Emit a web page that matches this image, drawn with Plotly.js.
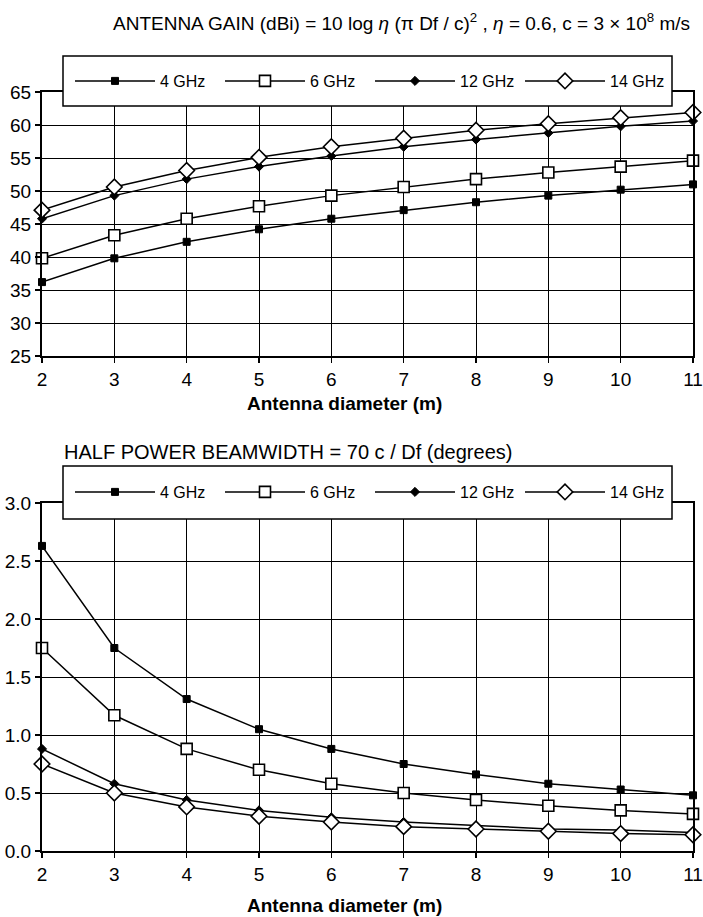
<!DOCTYPE html>
<html>
<head>
<meta charset="utf-8">
<script src="https://cdn.plot.ly/plotly-3.0.1.min.js"></script>
<style>html,body{margin:0;padding:0;background:#fff;}</style>
</head>
<body>
<div id="chart" style="width:703px;height:917px;"></div>
<script>
// Antenna diameter (m)
const diameters = [2, 3, 4, 5, 6, 7, 8, 9, 10, 11];
const seriesNames = ['4 GHz', '6 GHz', '12 GHz', '14 GHz'];

// Antenna gain (dBi)
const gain4  = [36.2, 39.8, 42.3, 44.2, 45.8, 47.1, 48.3, 49.3, 50.2, 51.0];
const gain6  = [39.8, 43.3, 45.8, 47.7, 49.3, 50.6, 51.8, 52.8, 53.7, 54.6];
const gain12 = [45.8, 49.3, 51.8, 53.7, 55.3, 56.7, 57.8, 58.8, 59.8, 60.6];
const gain14 = [47.1, 50.6, 53.1, 55.1, 56.7, 58.0, 59.2, 60.2, 61.1, 61.9];

// Half power beamwidth (degrees)
const bw4  = [2.63, 1.75, 1.31, 1.05, 0.88, 0.75, 0.66, 0.58, 0.53, 0.48];
const bw6  = [1.75, 1.17, 0.88, 0.70, 0.58, 0.50, 0.44, 0.39, 0.35, 0.32];
const bw12 = [0.88, 0.58, 0.44, 0.35, 0.29, 0.25, 0.22, 0.19, 0.18, 0.16];
const bw14 = [0.75, 0.50, 0.38, 0.30, 0.25, 0.21, 0.19, 0.17, 0.15, 0.14];

const gainTicks = [25, 30, 35, 40, 45, 50, 55, 60, 65];
const bwTicks = [0, 0.5, 1.0, 1.5, 2.0, 2.5, 3.0];

const FONT = '"Liberation Sans", Arial, Helvetica, sans-serif';

const markerStyles = [
  {symbol: 'square', size: 7, color: '#000', line: {color: '#000', width: 1}},
  {symbol: 'square', size: 11, color: '#fff', line: {color: '#000', width: 1.6}},
  {symbol: 'diamond', size: 7, color: '#000', line: {color: '#000', width: 1}},
  {symbol: 'diamond', size: 12, color: '#fff', line: {color: '#000', width: 1.6}}
];

function makeTrace(y, i, xa, ya, legendName) {
  return {
    x: diameters, y: y, type: 'scatter', mode: 'lines+markers',
    name: seriesNames[i], xaxis: xa, yaxis: ya, legend: legendName,
    line: {color: '#000', width: 1.5},
    marker: markerStyles[i],
    cliponaxis: false
  };
}

const gains = [gain4, gain6, gain12, gain14];
const bws = [bw4, bw6, bw12, bw14];
const traces = [];
gains.forEach((g, i) => traces.push(makeTrace(g, i, 'x', 'y', 'legend')));
bws.forEach((b, i) => traces.push(makeTrace(b, i, 'x2', 'y2', 'legend2')));

const W = 703, H = 917, ML = 42, MR = 10;
const PW = W - ML - MR;
const px = v => (v - ML) / PW;     // pixel x -> paper x
const py = v => 1 - v / H;         // pixel y -> paper y

function xaxisCfg(anchor) {
  return {
    anchor: anchor, domain: [0, 1], range: [2, 11], tickmode: 'array',
    tickvals: diameters, ticktext: diameters.map(String),
    showgrid: true, gridcolor: '#000', gridwidth: 1,
    showline: true, linecolor: '#000', linewidth: 2, mirror: true,
    ticks: 'outside', ticklen: 5, tickcolor: '#000', tickwidth: 1.5,
    tickfont: {family: FONT, size: 19, color: '#000'},
    zeroline: false, fixedrange: true
  };
}
function yaxisCfg(anchor, dom, range, ticks, fmt) {
  return {
    anchor: anchor, domain: dom, range: range, tickmode: 'array',
    tickvals: ticks, ticktext: ticks.map(v => fmt(v)),
    showgrid: true, gridcolor: '#000', gridwidth: 1,
    showline: true, linecolor: '#000', linewidth: 2, mirror: true,
    ticks: 'outside', ticklen: 5, tickcolor: '#000', tickwidth: 1.5,
    tickfont: {family: FONT, size: 19, color: '#000'},
    zeroline: false, fixedrange: true
  };
}

const legendCfg = (yc) => ({
  orientation: 'h', x: px(70), xanchor: 'left', y: yc, yanchor: 'middle',
  bgcolor: 'rgba(0,0,0,0)', borderwidth: 0,
  itemwidth: 80, entrywidth: 55, entrywidthmode: 'pixels',
  font: {family: FONT, size: 16, color: '#000'},
  itemclick: false, itemdoubleclick: false
});

const layout = {
  width: W, height: H,
  margin: {l: ML, r: MR, t: 0, b: 0},
  paper_bgcolor: '#fff', plot_bgcolor: '#fff',
  showlegend: true,
  xaxis: xaxisCfg('y'),
  yaxis: yaxisCfg('x', [py(356), py(92)], [25, 65], gainTicks, v => String(v)),
  xaxis2: xaxisCfg('y2'),
  yaxis2: yaxisCfg('x2', [py(851), py(503)], [0, 3], bwTicks, v => v.toFixed(1)),
  legend: legendCfg(py(81)),
  legend2: legendCfg(py(492)),
  shapes: [
    {type: 'rect', xref: 'paper', yref: 'paper', x0: px(63), x1: px(672), y0: py(106), y1: py(56),
     fillcolor: '#fff', line: {color: '#000', width: 1.5}, layer: 'above'},
    {type: 'rect', xref: 'paper', yref: 'paper', x0: px(63), x1: px(672), y0: py(519), y1: py(466),
     fillcolor: '#fff', line: {color: '#000', width: 1.5}, layer: 'above'}
  ],
  annotations: [
    {xref: 'paper', yref: 'paper', x: px(692), y: py(22), xanchor: 'right', yanchor: 'middle', showarrow: false,
     text: 'ANTENNA GAIN (dBi) = 10 log <i>η</i> (π Df / c)<sup>2</sup> , <i>η</i> = 0.6, c = 3 × 10<sup>8</sup> m/s',
     font: {family: FONT, size: 19, color: '#000'}},
    {xref: 'paper', yref: 'paper', x: px(344), y: py(403), xanchor: 'center', yanchor: 'middle', showarrow: false,
     text: '<b>Antenna diameter (m)</b>', font: {family: FONT, size: 19, color: '#000'}},
    {xref: 'paper', yref: 'paper', x: px(62), y: py(452), xanchor: 'left', yanchor: 'middle', showarrow: false,
     text: 'HALF POWER BEAMWIDTH = 70 c / Df (degrees)', font: {family: FONT, size: 20, color: '#000'}},
    {xref: 'paper', yref: 'paper', x: px(344), y: py(905), xanchor: 'center', yanchor: 'middle', showarrow: false,
     text: '<b>Antenna diameter (m)</b>', font: {family: FONT, size: 19, color: '#000'}}
  ]
};

Plotly.newPlot('chart', traces, layout, {displayModeBar: false, staticPlot: true});
</script>
</body>
</html>
